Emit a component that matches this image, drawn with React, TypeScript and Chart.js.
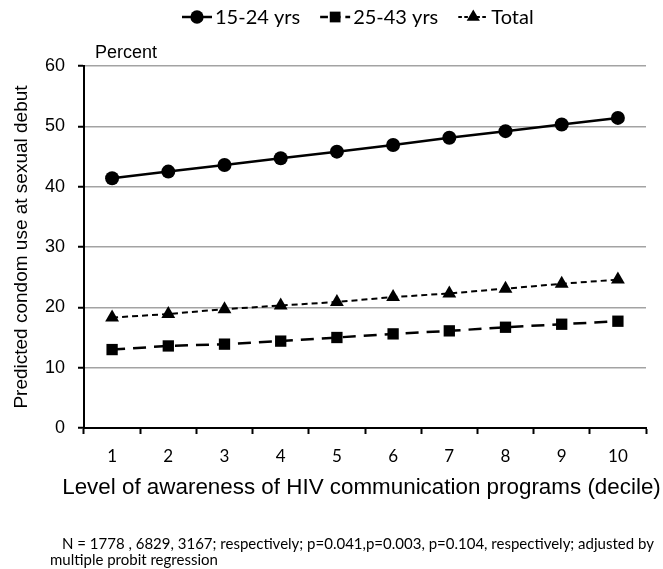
import React, { useEffect, useRef } from "react";
import { Chart, registerables } from "chart.js";

Chart.register(...registerables);

const categories = ["1", "2", "3", "4", "5", "6", "7", "8", "9", "10"];
const youngValues = [41.4, 42.5, 43.6, 44.7, 45.8, 46.9, 48.1, 49.2, 50.3, 51.4];
const olderValues = [13.0, 13.6, 13.9, 14.4, 15.0, 15.6, 16.1, 16.7, 17.2, 17.7];
const totalValues = [18.3, 18.9, 19.7, 20.3, 20.9, 21.7, 22.3, 23.1, 23.9, 24.6];
const seriesLabels = ["15-24 yrs", "25-43 yrs", "Total"];
const yTicks = [0, 10, 20, 30, 40, 50, 60];
const yAxisTitle = "Predicted condom use at sexual debut";
const xAxisTitle = "Level of awareness of HIV communication programs (decile)";
const unitLabel = "Percent";
const footnoteLines = [
  "N = 1778 , 6829, 3167; respectively; p=0.041,p=0.003, p=0.104, respectively; adjusted by",
  "multiple probit regression",
];

const W = 663;
const H = 569;

function drawMarker(ctx: CanvasRenderingContext2D, style: string, r: number, x: number, y: number) {
  ctx.save();
  ctx.fillStyle = "#000";
  ctx.beginPath();
  if (style === "circle") {
    ctx.arc(x, y, r, 0, Math.PI * 2);
  } else if (style === "rect") {
    const s = r * Math.SQRT1_2;
    ctx.rect(x - s, y - s, 2 * s, 2 * s);
  } else {
    ctx.moveTo(x, y - r);
    ctx.lineTo(x + r * 0.866, y + r * 0.5);
    ctx.lineTo(x - r * 0.866, y + r * 0.5);
    ctx.closePath();
  }
  ctx.fill();
  ctx.restore();
}

const overlayPlugin = {
  id: "overlay",
  afterDraw(chart: any) {
    const ctx = chart.ctx as CanvasRenderingContext2D;
    ctx.save();
    // unit label
    ctx.fillStyle = "#000";
    ctx.font = "18px 'Liberation Sans', Arial, sans-serif";
    ctx.textAlign = "left";
    ctx.textBaseline = "middle";
    ctx.fillText(unitLabel, 95, 53);

    // x axis title (wider than the plot area, as in the original)
    ctx.font = "22.4px 'Liberation Sans', Arial, sans-serif";
    ctx.textAlign = "center";
    ctx.textBaseline = "middle";
    ctx.fillText(xAxisTitle, 361.5, 488);

    // legend
    ctx.font = "20px Lato, sans-serif";
    const lineLen = 30;
    const gapAfterLine = 3;
    const itemGap = 20;
    let x = 182;
    const ly = 17;
    chart.data.datasets.forEach((ds: any) => {
      ctx.save();
      ctx.strokeStyle = "#000";
      ctx.lineWidth = ds.borderWidth;
      ctx.setLineDash(ds.borderDash ? ds.borderDash.map((d: number) => d * 0.6) : []);
      ctx.beginPath();
      ctx.moveTo(x, ly);
      ctx.lineTo(x + lineLen, ly);
      ctx.stroke();
      ctx.restore();
      drawMarker(ctx, ds.pointStyle, ds.pointRadius * 0.95, x + lineLen / 2, ly);
      ctx.fillStyle = "#000";
      ctx.textAlign = "left";
      ctx.textBaseline = "middle";
      const tx = x + lineLen + gapAfterLine;
      ctx.fillText(ds.label, tx, ly + 1);
      x = tx + ctx.measureText(ds.label).width + itemGap;
    });

    // footnote
    ctx.font = "15px Lato, sans-serif";
    ctx.textAlign = "left";
    ctx.textBaseline = "middle";
    ctx.fillText(footnoteLines[0], 62, 544);
    ctx.fillText(footnoteLines[1], 50, 560);
    ctx.restore();
  },
};

export default function App() {
  const ref = useRef<HTMLCanvasElement | null>(null);
  useEffect(() => {
    if (!ref.current) return;
    const chart = new Chart(ref.current, {
      type: "line",
      data: {
        labels: categories,
        datasets: [
          {
            label: seriesLabels[0],
            data: youngValues,
            borderColor: "#000",
            backgroundColor: "#000",
            borderWidth: 2.5,
            pointStyle: "circle",
            pointRadius: 7,
            pointBackgroundColor: "#000",
            pointBorderColor: "#000",
            pointBorderWidth: 0,
            tension: 0,
          } as any,
          {
            label: seriesLabels[1],
            data: olderValues,
            borderColor: "#000",
            backgroundColor: "#000",
            borderWidth: 2.5,
            borderDash: [13, 8],
            pointStyle: "rect",
            pointRadius: 8,
            pointBackgroundColor: "#000",
            pointBorderColor: "#000",
            pointBorderWidth: 0,
            tension: 0,
          } as any,
          {
            label: seriesLabels[2],
            data: totalValues,
            borderColor: "#000",
            backgroundColor: "#000",
            borderWidth: 2,
            borderDash: [6, 4],
            pointStyle: "triangle",
            pointRadius: 8,
            pointBackgroundColor: "#000",
            pointBorderColor: "#000",
            pointBorderWidth: 0,
            tension: 0,
          } as any,
        ],
      },
      options: {
        animation: false,
        responsive: false,
        maintainAspectRatio: false,
        layout: { padding: { left: 0, right: 17, top: 66, bottom: 0 } },
        plugins: {
          legend: { display: false },
          tooltip: { enabled: false },
          title: { display: false },
        },
        scales: {
          x: {
            type: "category",
            offset: true,
            grid: {
              display: true,
              drawOnChartArea: false,
              drawTicks: true,
              tickLength: 6,
              tickColor: "#000",
              tickWidth: 2,
              offset: true,
            },
            border: { display: true, color: "#000", width: 2 },
            ticks: {
              color: "#000",
              font: { family: "Lato, sans-serif", size: 17 },
              padding: 12,
              maxRotation: 0,
            },
            title: { display: false, text: xAxisTitle },
            afterFit: (scale: any) => {
              scale.height = 141;
            },
          },
          y: {
            min: 0,
            max: 60,
            afterBuildTicks: (scale: any) => {
              scale.ticks = yTicks.map((v) => ({ value: v }));
            },
            grid: {
              color: "#a3a3a3",
              lineWidth: 1.5,
              drawTicks: true,
              tickLength: 6,
              tickColor: "#000",
              tickWidth: 2,
            },
            border: { display: true, color: "#000", width: 2 },
            ticks: {
              color: "#000",
              font: { family: "'Liberation Sans', Arial, sans-serif", size: 18 },
              padding: 13,
            },
            title: {
              display: true,
              text: yAxisTitle,
              color: "#000",
              font: { family: "'Liberation Sans', Arial, sans-serif", size: 19 },
              padding: { top: 10.6, bottom: 0 },
            },
            afterFit: (scale: any) => {
              scale.width = 84;
            },
          },
        },
      },
      plugins: [overlayPlugin],
    });
    return () => chart.destroy();
  }, []);
  return (
    <div style={{ position: "absolute", left: 0, top: 0, width: W, height: H, background: "#fff" }}>
      <canvas ref={ref} width={W} height={H} style={{ display: "block", width: W, height: H }} />
    </div>
  );
}
